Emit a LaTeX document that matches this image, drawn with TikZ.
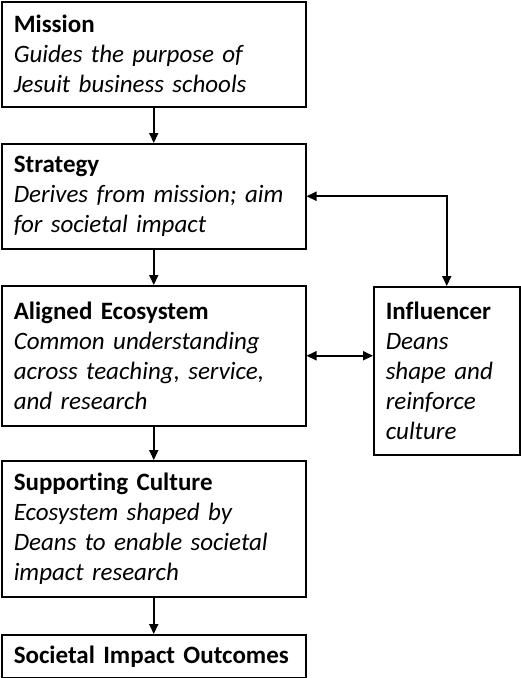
\documentclass[tikz,border=0pt]{standalone}
\usepackage{fontspec}
\setmainfont{Carlito}[Ligatures=NoCommon]
\usetikzlibrary{arrows.meta}
\tikzset{
  box/.style={draw,line width=1.5pt,anchor=north west,align=left,inner xsep=12pt,inner ysep=0pt,
    font=\fontsize{25}{30}\selectfont},
  arr/.style={line width=2pt,-{Triangle[width=9pt,length=10pt]}},
  darr/.style={line width=2pt,{Triangle[width=9pt,length=10pt]}-{Triangle[width=9pt,length=10pt]}}
}
\begin{document}
\begin{tikzpicture}[x=1pt,y=-1pt]
		\useasboundingbox (0,0) rectangle (520,678);
		\node[box,minimum width=304pt,minimum height=105pt,text width=280pt](mission) at (1,1){\textbf{Mission}\\\textit{Guides the purpose of}\\\textit{Jesuit business schools}};
		\node[box,minimum width=304pt,minimum height=105pt,text width=280pt](strategy) at (1,143){\textbf{Strategy}\\\textit{Derives from mission; aim}\\\textit{for societal impact}};
		\node[box,minimum width=304pt,minimum height=140pt,text width=280pt](aligned) at (1,285){\textbf{Aligned Ecosystem}\\\textit{Common understanding}\\\textit{across teaching, service,}\\\textit{and research}};
		\node[box,minimum width=304pt,minimum height=136pt,text width=280pt](culture) at (1,460){\textbf{Supporting Culture}\\\textit{Ecosystem shaped by}\\\textit{Deans to enable societal}\\\textit{impact research}};
		\node[box,minimum width=304pt,minimum height=43pt,text width=280pt](outcomes) at (1,634){\textbf{Societal Impact Outcomes}};
		\node[box,minimum width=146pt,minimum height=168pt,text width=122pt](influencer) at (373,286){\textbf{Influencer}\\\textit{Deans}\\\textit{shape and}\\\textit{reinforce}\\\textit{culture}};
		\draw[arr](mission)--(strategy);
		\draw[arr](strategy)--(aligned);
		\draw[arr](aligned)--(culture);
		\draw[arr](culture)--(outcomes);
		\draw[darr](strategy.east)-|(influencer.north);
		\draw[darr](aligned.east)--(aligned.east-|influencer.west);
	    \end{tikzpicture}
\end{document}
